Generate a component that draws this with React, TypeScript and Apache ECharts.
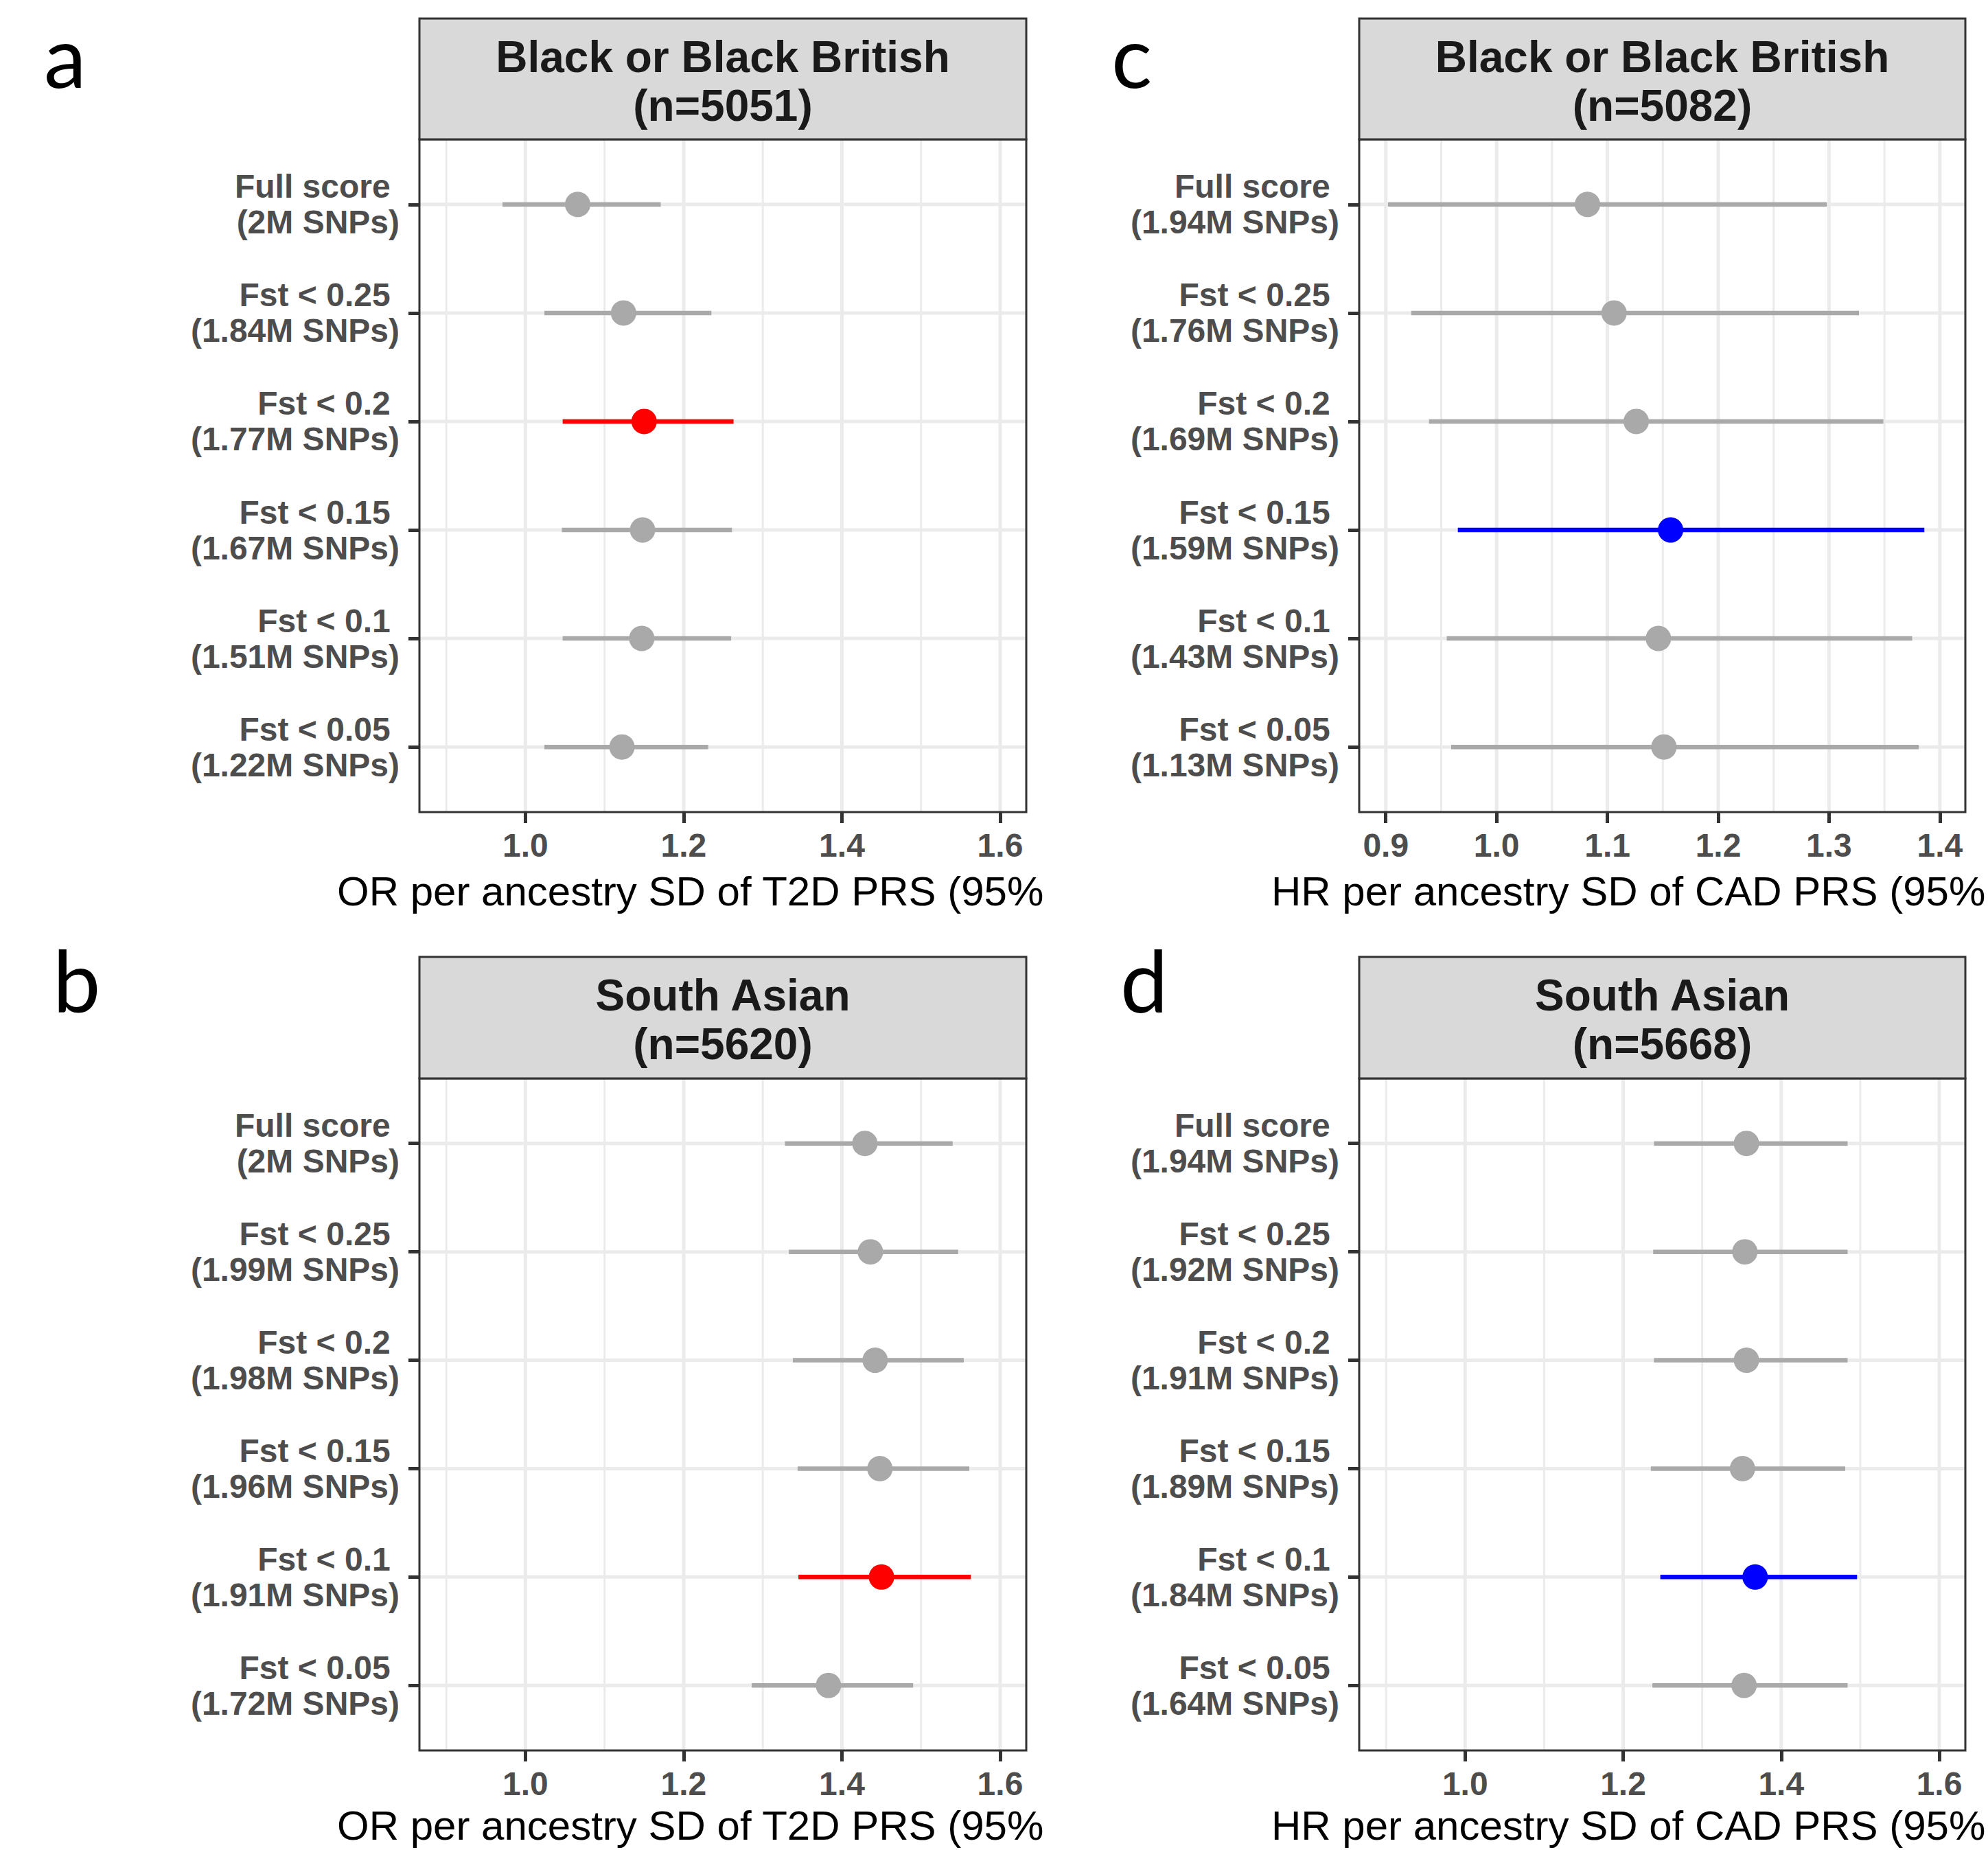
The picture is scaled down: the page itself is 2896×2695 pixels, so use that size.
import React, { useEffect, useRef } from "react";
import * as echarts from "echarts";

// ---------- data ----------
const rowNames = ["Full score", "Fst < 0.25", "Fst < 0.2", "Fst < 0.15", "Fst < 0.1", "Fst < 0.05"];

const snpsA = ["2M", "1.84M", "1.77M", "1.67M", "1.51M", "1.22M"];
const estA = [1.066, 1.124, 1.15, 1.148, 1.147, 1.122];
const loA = [0.971, 1.024, 1.047, 1.046, 1.047, 1.024];
const hiA = [1.171, 1.235, 1.263, 1.261, 1.26, 1.231];
const hlA = 2;

const snpsB = ["2M", "1.99M", "1.98M", "1.96M", "1.91M", "1.72M"];
const estB = [1.429, 1.436, 1.442, 1.448, 1.45, 1.383];
const loB = [1.328, 1.333, 1.338, 1.344, 1.345, 1.286];
const hiB = [1.54, 1.547, 1.554, 1.561, 1.563, 1.49];
const hlB = 4;

const snpsC = ["1.94M", "1.76M", "1.69M", "1.59M", "1.43M", "1.13M"];
const estC = [1.082, 1.106, 1.126, 1.157, 1.146, 1.151];
const loC = [0.902, 0.923, 0.939, 0.965, 0.955, 0.959];
const hiC = [1.298, 1.327, 1.349, 1.386, 1.375, 1.381];
const hlC = 3;

const snpsD = ["1.94M", "1.92M", "1.91M", "1.89M", "1.84M", "1.64M"];
const estD = [1.356, 1.354, 1.356, 1.351, 1.367, 1.353];
const loD = [1.239, 1.238, 1.239, 1.235, 1.247, 1.237];
const hiD = [1.484, 1.484, 1.484, 1.481, 1.496, 1.484];
const hlD = 4;

const stripA = "Black or Black British\n(n=5051)";
const stripB = "South Asian\n(n=5620)";
const stripC = "Black or Black British\n(n=5082)";
const stripD = "South Asian\n(n=5668)";

const titleT2D = "OR per ancestry SD of T2D PRS (95%";
const titleCAD = "HR per ancestry SD of CAD PRS (95%";

const ticksOR = [1.0, 1.2, 1.4, 1.6];
const minorOR = [0.9, 1.1, 1.3, 1.5];
const ticksHR = [0.9, 1.0, 1.1, 1.2, 1.3, 1.4];
const minorHR = [0.95, 1.05, 1.15, 1.25, 1.35];
const rangeOR = [0.866, 1.633];
const rangeHR = [0.876, 1.423];
const rowValues = [1, 2, 3, 4, 5, 6];
const yRange = [0.4, 6.6];

// ---------- layout ----------
const W = 2896;
const H = 2695;
const colLeft = [611, 1980];
const colWidth = [884, 883];
const stripTop = [27, 1394];
const panelTop = [203, 1571];
const panelHeight = [980, 979];
const titleX = [491, 1852];
const titleY = [1298, 2659];
const letterPos = [
  [64, 80],
  [77, 1426],
  [1619, 80],
  [1632, 1426],
];

const FONT = "'Liberation Sans', Arial, Helvetica, sans-serif";
const GREY = "#A9A9A9";
const GRID = "#EBEBEB";
const DARK = "#333333";
const LABEL = "#4D4D4D";

type Panel = {
  col: number;
  row: number;
  snps: string[];
  est: number[];
  lo: number[];
  hi: number[];
  hl: number;
  hlColor: string;
  strip: string;
  title: string;
  ticks: number[];
  minor: number[];
  range: number[];
  letter: string;
};

const panels: Panel[] = [
  { col: 0, row: 0, snps: snpsA, est: estA, lo: loA, hi: hiA, hl: hlA, hlColor: "#FF0000", strip: stripA, title: titleT2D, ticks: ticksOR, minor: minorOR, range: rangeOR, letter: "a" },
  { col: 0, row: 1, snps: snpsB, est: estB, lo: loB, hi: hiB, hl: hlB, hlColor: "#FF0000", strip: stripB, title: titleT2D, ticks: ticksOR, minor: minorOR, range: rangeOR, letter: "b" },
  { col: 1, row: 0, snps: snpsC, est: estC, lo: loC, hi: hiC, hl: hlC, hlColor: "#0000FF", strip: stripC, title: titleCAD, ticks: ticksHR, minor: minorHR, range: rangeHR, letter: "c" },
  { col: 1, row: 1, snps: snpsD, est: estD, lo: loD, hi: hiD, hl: hlD, hlColor: "#0000FF", strip: stripD, title: titleCAD, ticks: ticksOR, minor: minorOR, range: rangeOR, letter: "d" },
];

function buildOption() {
  const grid: any[] = [];
  const xAxis: any[] = [];
  const yAxis: any[] = [];
  const series: any[] = [];
  const graphic: any[] = [];

  panels.forEach((p, i) => {
    const left = colLeft[p.col];
    const width = colWidth[p.col];
    const top = panelTop[p.row];
    const height = panelHeight[p.row];
    const labels = rowNames.map((n, k) => n + "\u00A0\n(" + p.snps[k] + " SNPs)");

    grid.push({ left, top, width, height, show: false, containLabel: false, outerBoundsMode: "none" });

    xAxis.push({
      type: "value",
      gridIndex: i,
      min: p.range[0],
      max: p.range[1],
      axisLine: { show: false, onZero: false },
      splitLine: { show: false },
      axisTick: {
        show: true,
        customValues: p.ticks,
        length: 16,
        lineStyle: { color: DARK, width: 5 },
      },
      axisLabel: {
        show: true,
        customValues: p.ticks,
        margin: 24,
        fontFamily: FONT,
        fontWeight: "bold",
        fontSize: 48,
        lineHeight: 48,
        color: LABEL,
        formatter: (v: number) => v.toFixed(1),
      },
    });

    yAxis.push({
      type: "value",
      gridIndex: i,
      inverse: true,
      min: yRange[0],
      max: yRange[1],
      axisLine: { show: false, onZero: false },
      splitLine: { show: false },
      axisTick: {
        show: true,
        customValues: rowValues,
        length: 16,
        lineStyle: { color: DARK, width: 5 },
      },
      axisLabel: {
        show: true,
        customValues: rowValues,
        margin: 29,
        fontFamily: FONT,
        fontWeight: "bold",
        fontSize: 48,
        lineHeight: 52,
        color: LABEL,
        align: "right",
        verticalAlign: "middle",
        padding: [6, 0, 0, 0],
        formatter: (v: number) => labels[Math.round(v) - 1] || "",
      },
    });

    // minor vertical grid
    series.push({
      type: "custom",
      xAxisIndex: i,
      yAxisIndex: i,
      silent: true,
      z: 1,
      data: p.minor.map((v) => [v]),
      renderItem: (_params: any, api: any) => {
        const v = api.value(0);
        const a = api.coord([v, yRange[0]]);
        const b = api.coord([v, yRange[1]]);
        return { type: "line", shape: { x1: a[0], y1: a[1], x2: b[0], y2: b[1] }, style: { stroke: GRID, lineWidth: 3 } };
      },
    });
    // major vertical grid
    series.push({
      type: "custom",
      xAxisIndex: i,
      yAxisIndex: i,
      silent: true,
      z: 1,
      data: p.ticks.map((v) => [v]),
      renderItem: (_params: any, api: any) => {
        const v = api.value(0);
        const a = api.coord([v, yRange[0]]);
        const b = api.coord([v, yRange[1]]);
        return { type: "line", shape: { x1: a[0], y1: a[1], x2: b[0], y2: b[1] }, style: { stroke: GRID, lineWidth: 5 } };
      },
    });
    // horizontal grid at rows
    series.push({
      type: "custom",
      xAxisIndex: i,
      yAxisIndex: i,
      silent: true,
      z: 1,
      data: rowValues.map((r) => [p.range[0], r]),
      renderItem: (_params: any, api: any) => {
        const r = api.value(1);
        const a = api.coord([p.range[0], r]);
        const b = api.coord([p.range[1], r]);
        return { type: "line", shape: { x1: a[0], y1: a[1], x2: b[0], y2: b[1] }, style: { stroke: GRID, lineWidth: 5 } };
      },
    });
    // estimates with CI
    series.push({
      type: "custom",
      xAxisIndex: i,
      yAxisIndex: i,
      z: 5,
      data: p.est.map((e, k) => [p.lo[k], e, p.hi[k], k + 1, k === p.hl ? 1 : 0]),
      encode: { x: [0, 1, 2], y: 3 },
      renderItem: (_params: any, api: any) => {
        const y = api.value(3);
        const p0 = api.coord([api.value(0), y]);
        const p1 = api.coord([api.value(1), y]);
        const p2 = api.coord([api.value(2), y]);
        const c = api.value(4) ? p.hlColor : GREY;
        return {
          type: "group",
          children: [
            { type: "line", shape: { x1: p0[0], y1: p0[1], x2: p2[0], y2: p2[1] }, style: { stroke: c, lineWidth: 6.5 } },
            { type: "circle", shape: { cx: p1[0], cy: p1[1], r: 18.5 }, style: { fill: c } },
          ],
        };
      },
    });

    // panel border
    graphic.push({
      type: "rect",
      z: 100,
      silent: true,
      shape: { x: left, y: top, width, height },
      style: { fill: "none", stroke: DARK, lineWidth: 3 },
    });
    // strip
    graphic.push({
      type: "rect",
      z: 100,
      silent: true,
      shape: { x: left, y: stripTop[p.row], width, height: top - stripTop[p.row] },
      style: { fill: "#D9D9D9", stroke: DARK, lineWidth: 3 },
    });
    graphic.push({
      type: "text",
      z: 101,
      silent: true,
      x: left + width / 2,
      y: (stripTop[p.row] + top) / 2 + 3,
      style: {
        text: p.strip,
        font: "bold 64px " + FONT,
        lineHeight: 71,
        fill: "#1A1A1A",
        textAlign: "center",
        textVerticalAlign: "middle",
      },
    });
    // axis title
    graphic.push({
      type: "text",
      z: 101,
      silent: true,
      x: titleX[p.col],
      y: titleY[p.row],
      style: {
        text: p.title,
        font: "60px " + FONT,
        fill: "#000000",
        textAlign: "left",
        textVerticalAlign: "middle",
      },
    });
    // panel letter
    graphic.push({
      type: "text",
      z: 101,
      silent: true,
      x: letterPos[i][0],
      y: letterPos[i][1],
      style: {
        text: p.letter,
        font: "124px Lato, 'Open Sans', sans-serif",
        fill: "#000000",
        textAlign: "left",
        textVerticalAlign: "middle",
      },
    });
  });

  return {
    animation: false,
    backgroundColor: "#FFFFFF",
    grid,
    xAxis,
    yAxis,
    series,
    graphic,
  };
}

export default function App() {
  const ref = useRef<HTMLDivElement>(null);
  useEffect(() => {
    document.body.style.margin = "0";
    if (!ref.current) return;
    const chart = echarts.init(ref.current, null, { renderer: "svg", width: W, height: H });
    chart.setOption(buildOption() as any);
    return () => chart.dispose();
  }, []);
  return <div ref={ref} style={{ position: "absolute", left: 0, top: 0, width: W, height: H, background: "#fff" }} />;
}
